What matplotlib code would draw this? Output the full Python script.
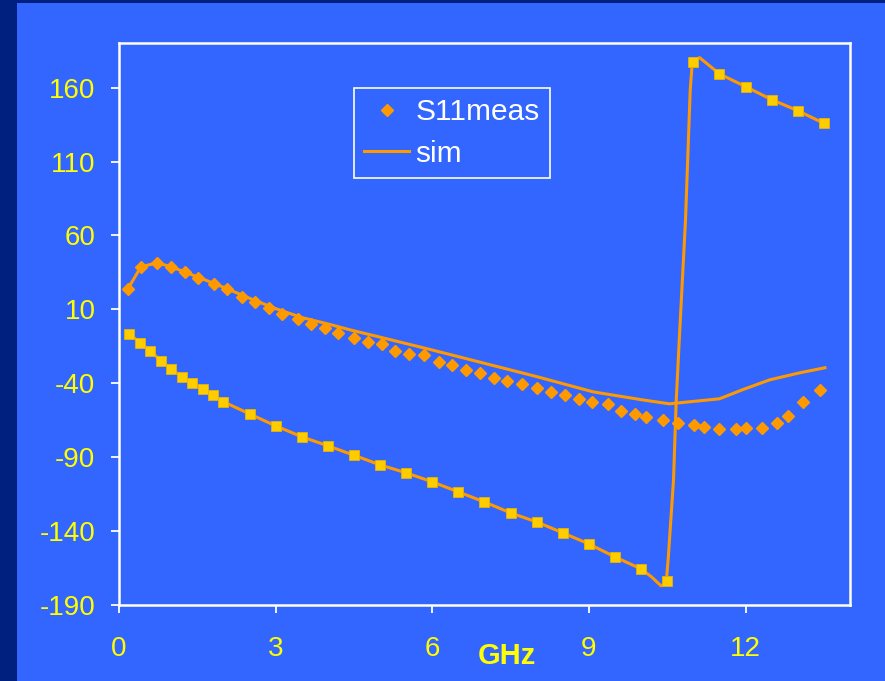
import matplotlib
matplotlib.use("Agg")
import matplotlib.pyplot as plt
from matplotlib.patches import Rectangle

plt.rcParams['font.family'] = ['Liberation Sans', 'DejaVu Sans']

# S11 measured (diamonds)
s11_meas_f = [0.17, 0.42, 0.73, 1.0, 1.27, 1.52, 1.81, 2.06, 2.35, 2.6, 2.88, 3.13,
              3.42, 3.67, 3.94, 4.2, 4.5, 4.77, 5.04, 5.29, 5.56, 5.85, 6.12, 6.38,
              6.65, 6.92, 7.19, 7.44, 7.71, 8.0, 8.27, 8.54, 8.81, 9.06, 9.37, 9.62,
              9.88, 10.1, 10.42, 10.71, 11.02, 11.21, 11.5, 11.81, 12.0, 12.31, 12.6,
              12.81, 13.1, 13.42]
s11_meas = [23.9, 38.8, 41.5, 38.8, 35.4, 31.4, 27.3, 23.9, 18.5, 15.1, 11.1, 7.0,
            3.6, 0.2, -2.5, -6.2, -9.2, -11.9, -13.3, -18.0, -20.1, -20.7, -25.5, -27.5,
            -30.9, -32.9, -36.3, -38.3, -40.4, -43.1, -45.8, -47.8, -50.5, -52.5, -53.9, -58.6,
            -60.7, -62.7, -64.7, -66.8, -68.1, -69.5, -70.8, -70.8, -70.1, -70.1, -66.8,
            -62.0, -52.5, -44.4]

# S11 simulated (line)
s11_sim_f = [0.17, 0.42, 0.73, 1.0, 1.5, 2.0, 2.5, 3.0, 3.5, 4.06, 4.44, 5.0, 6.0,
             7.0, 8.0, 8.87, 9.08, 10.02, 10.54, 11.5, 11.94, 12.46, 13.04, 13.52]
s11_sim = [23.9, 38.8, 41.5, 38.8, 32.0, 25.0, 17.5, 10.5, 4.5, -0.4, -4.0, -8.8, -17.5,
           -26.5, -35.5, -43.8, -45.8, -51.2, -53.9, -50.5, -44.4, -37.7, -32.9, -29.5]

# S21 measured (squares)
s21_meas_f = [0.2, 0.4, 0.6, 0.8, 1.0, 1.2, 1.4, 1.6, 1.8, 2.0, 2.5, 3.0, 3.5, 4.0,
              4.5, 5.0, 5.5, 6.0, 6.5, 7.0, 7.5, 8.0, 8.5, 9.0, 9.5, 10.0, 10.5,
              11.0, 11.5, 12.0, 12.5, 13.0, 13.5]
s21_meas = [-6.5, -12.6, -18.0, -24.8, -30.2, -35.6, -39.7, -43.7, -47.8, -52.5, -60.7,
            -68.8, -76.2, -82.3, -88.7, -95.2, -100.6, -106.7, -113.5, -120.3, -127.7,
            -133.8, -141.2, -148.7, -157.5, -165.6, -173.7,
            177.6, 169.3, 160.7, 151.9, 144.4, 135.9]

# S21 simulated (line)
s21_sim_f = [0.2, 0.4, 0.6, 0.8, 1.0, 1.2, 1.4, 1.6, 1.8, 2.0, 2.5, 3.0, 3.5, 4.0,
             4.5, 5.0, 5.5, 6.0, 6.5, 7.0, 7.5, 8.0, 8.5, 9.0, 9.5, 10.0, 10.2,
             10.38, 10.48, 10.52, 10.62, 10.67, 10.73, 10.85, 10.94, 10.98, 11.12,
             11.5, 12.0, 12.5, 13.0, 13.5]
s21_sim = [-6.5, -12.6, -18.0, -24.8, -30.2, -35.6, -39.7, -43.7, -47.8, -52.5, -60.7,
           -68.8, -76.2, -82.3, -88.7, -95.2, -100.6, -106.7, -113.5, -120.3, -127.7,
           -133.8, -141.2, -148.7, -157.5, -165.6, -171.0,
           -177.0, -175.0, -158.0, -105.3, -53.2, -10.6, 70.6, 158.6, 177.6, 180.3,
           169.3, 160.7, 151.9, 144.4, 135.9]

x_ticks = [0, 3, 6, 9, 12]
y_ticks = [-190, -140, -90, -40, 10, 60, 110, 160]

ORANGE = '#ff9900'
SQUARE = '#ffcc00'
BLUE = '#3366ff'
NAVY = '#00207f'
YELLOW = '#ffff00'

W, H = 885, 681
fig = plt.figure(figsize=(W / 100, H / 100), dpi=100)
fig.patch.set_facecolor(NAVY)
fig.add_artist(Rectangle((17 / W, 0), 1 - 17 / W, 1 - 3 / H, transform=fig.transFigure,
                         facecolor=BLUE, edgecolor='none', zorder=0))

ax = fig.add_axes([119 / W, 1 - 605 / H, (850 - 119) / W, (605 - 43) / H])
ax.set_facecolor(BLUE)

ax.plot(s21_sim_f, s21_sim, color=ORANGE, lw=2.2, zorder=3, label='_nolegend_')
ax.plot(s21_meas_f, s21_meas, linestyle='none', marker='s', ms=7.5,
        mfc=SQUARE, mec='#e6b400', mew=0.6, zorder=4, label='_nolegend_')
ax.plot(s11_meas_f, s11_meas, linestyle='none', marker='D', ms=6.6,
        mfc=ORANGE, mec=ORANGE, zorder=4, label='S11meas')
ax.plot(s11_sim_f, s11_sim, color=ORANGE, lw=2.2, zorder=3, label='sim')

ax.set_xlim(0, 14)
ax.set_ylim(-190, 190.2)
ax.set_xticks(x_ticks)
ax.set_yticks(y_ticks)
ax.set_xticklabels([str(v) for v in x_ticks])
ax.set_yticklabels([str(v) for v in y_ticks])

for s in ax.spines.values():
    s.set_color('white')
    s.set_linewidth(1.8)

ax.tick_params(axis='both', direction='out', length=6, width=1.3, color='white',
               labelcolor=YELLOW, labelsize=20)
ax.tick_params(axis='x', pad=16)
ax.tick_params(axis='y', pad=11)

fig.text(507 / W, 1 - 656 / H, 'GHz', color=YELLOW, fontsize=21, fontweight='bold',
         ha='center', va='center')

leg = ax.legend(loc='upper left', bbox_to_anchor=(354 / W, 1 - 88 / H),
                bbox_transform=fig.transFigure, borderaxespad=0,
                fontsize=21.5, numpoints=1, handlelength=1.5, handletextpad=0.2,
                labelspacing=0.45, borderpad=0.35, fancybox=False, frameon=True)
leg.get_frame().set_facecolor(BLUE)
leg.get_frame().set_edgecolor('white')
leg.get_frame().set_linewidth(1.2)
leg.get_frame().set_alpha(1)
for t in leg.get_texts():
    t.set_color('white')

fig.savefig('out.png', dpi=100, facecolor=fig.get_facecolor())
